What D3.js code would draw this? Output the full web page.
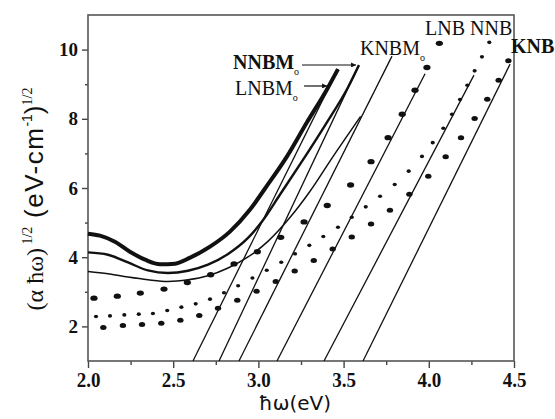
<!DOCTYPE html>
<html>
<head>
<meta charset="utf-8">
<script src="https://cdn.jsdelivr.net/npm/d3@7"></script>
<style>
  body { margin: 0; background: #fff; }
  .tick text { font-family: "Liberation Serif", "Times New Roman", serif; font-weight: bold; font-size: 19px; fill: #111; }
  .tick line { stroke: #444; stroke-width: 1.4; }
</style>
</head>
<body>
<svg id="chart" width="555" height="419"></svg>
<script>
// photon energy hw (eV) and (alpha*hw)^1/2

// solid absorption curves
var lnbmoX = [2.000, 2.070, 2.158, 2.246, 2.335, 2.423, 2.511, 2.599, 2.716, 2.833, 2.951, 3.039, 3.168, 3.285, 3.403, 3.467];
var lnbmoY = [4.681, 4.623, 4.449, 4.159, 3.928, 3.797, 3.812, 3.986, 4.304, 4.739, 5.377, 5.986, 6.913, 7.899, 8.855, 9.435];

var nnbmoX = [2.000, 2.117, 2.235, 2.352, 2.469, 2.587, 2.704, 2.822, 2.939, 3.021, 3.127, 3.244, 3.391, 3.526, 3.590];
var nnbmoY = [4.139, 4.072, 3.849, 3.617, 3.542, 3.609, 3.783, 4.093, 4.557, 5.029, 5.812, 6.681, 7.812, 8.913, 9.551];

var knbmoX = [2.000, 2.117, 2.235, 2.352, 2.469, 2.587, 2.704, 2.822, 2.939, 3.056, 3.185, 3.302, 3.430, 3.600];
var knbmoY = [3.588, 3.522, 3.426, 3.348, 3.299, 3.348, 3.464, 3.687, 4.006, 4.458, 5.145, 5.899, 6.850, 8.070];

// dotted series
var lnbX = [2.035, 2.172, 2.307, 2.446, 2.583, 2.720, 2.857, 2.994, 3.131, 3.268, 3.404, 3.541, 3.661, 3.761, 3.844, 3.919, 3.989, 4.062];
var lnbY = [2.817, 2.875, 2.962, 3.078, 3.270, 3.493, 3.806, 4.159, 4.574, 5.020, 5.493, 6.087, 6.762, 7.455, 8.130, 8.826, 9.484, 10.180];

var nnbX = [2.047, 2.129, 2.213, 2.298, 2.381, 2.465, 2.548, 2.632, 2.716, 2.798, 2.881, 2.965, 3.049, 3.134, 3.215, 3.299,
            3.381, 3.467, 3.548, 3.630, 3.714, 3.800, 3.882, 3.960, 4.023, 4.085, 4.136, 4.183, 4.226, 4.269, 4.312, 4.355];
var nnbY = [2.284, 2.304, 2.333, 2.354, 2.371, 2.458, 2.557, 2.652, 2.788, 2.971, 3.174, 3.397, 3.623, 3.855, 4.101, 4.342,
            4.600, 4.864, 5.154, 5.455, 5.762, 6.101, 6.487, 6.913, 7.310, 7.725, 8.130, 8.557, 8.971, 9.386, 9.791, 10.209];

var knbX = [2.090, 2.205, 2.317, 2.430, 2.542, 2.653, 2.763, 2.876, 2.989, 3.102, 3.213, 3.325, 3.436, 3.548, 3.661, 3.772,
            3.886, 3.997, 4.099, 4.189, 4.269, 4.343, 4.410, 4.467];
var knbY = [1.965, 2.023, 2.052, 2.093, 2.180, 2.313, 2.528, 2.754, 3.014, 3.299, 3.600, 3.907, 4.238, 4.586, 4.962, 5.357,
            5.820, 6.342, 6.904, 7.455, 8.006, 8.565, 9.116, 9.675];

// linear extrapolation lines: [x at bottom, x at top], [y at bottom, y at top]
var fitLnbmo = [[2.616, 3.467], [1.0, 9.435]];
var fitNnbmo = [[2.769, 3.590], [1.0, 9.551]];
var fitKnbmo = [[2.886, 3.784], [1.0, 9.812]];
var fitLnb   = [[3.109, 3.978], [1.0, 9.300]];
var fitNnb   = [[3.385, 4.265], [1.0, 9.261]];
var fitKnb   = [[3.614, 4.477], [1.0, 9.580]];

var xMajor = [2.0, 2.5, 3.0, 3.5, 4.0, 4.5];
var xMinor = [2.25, 2.75, 3.25, 3.75, 4.25];
var yMajor = [2, 4, 6, 8, 10];
var yMinor = [3, 5, 7, 9];

var svg = d3.select("#chart");
var margin = {top: 15, right: 41, bottom: 58, left: 88};
var width = 555 - margin.left - margin.right,
    height = 419 - margin.top - margin.bottom;

var x = d3.scaleLinear().domain([2.0, 4.5]).range([margin.left, margin.left + width]);
var y = d3.scaleLinear().domain([1, 11]).range([margin.top + height, margin.top]);

function zip(xs, ys) { return xs.map(function(v, i) { return [v, ys[i]]; }); }

// axes
var gx = svg.append("g").attr("transform", "translate(0," + (margin.top + height) + ")");
gx.call(d3.axisBottom(x).tickValues(xMajor).tickSize(7).tickPadding(3).tickFormat(d3.format(".1f")));
gx.append("g").call(d3.axisBottom(x).tickValues(xMinor).tickSize(4).tickFormat(""));
var gy = svg.append("g").attr("transform", "translate(" + margin.left + ",0)");
gy.call(d3.axisLeft(y).tickValues(yMajor).tickSize(6).tickPadding(4));
gy.append("g").call(d3.axisLeft(y).tickValues(yMinor).tickSize(3).tickFormat(""));
svg.selectAll(".domain").remove();
gx.selectAll(".tick text").attr("transform", "scale(1,1.12)");

svg.append("rect")
    .attr("x", margin.left).attr("y", margin.top)
    .attr("width", width).attr("height", height)
    .attr("fill", "none").attr("stroke", "#555").attr("stroke-width", 1.6);

var plot = svg.append("g");

// fit lines
var line = d3.line().x(function(d) { return x(d[0]); }).y(function(d) { return y(d[1]); });
[fitLnbmo, fitNnbmo, fitKnbmo, fitLnb, fitNnb, fitKnb].forEach(function(f) {
  plot.append("path")
      .datum(zip(f[0], f[1]))
      .attr("d", line)
      .attr("fill", "none").attr("stroke", "#111").attr("stroke-width", 1.3);
});

// absorption curves
var smooth = d3.line().curve(d3.curveMonotoneX)
    .x(function(d) { return x(d[0]); }).y(function(d) { return y(d[1]); });
plot.append("path").datum(zip(knbmoX, knbmoY)).attr("d", smooth)
    .attr("fill", "none").attr("stroke", "#111").attr("stroke-width", 1.5);
plot.append("path").datum(zip(nnbmoX, nnbmoY)).attr("d", smooth)
    .attr("fill", "none").attr("stroke", "#111").attr("stroke-width", 2.4);
plot.append("path").datum(zip(lnbmoX, lnbmoY)).attr("d", smooth)
    .attr("fill", "none").attr("stroke", "#111").attr("stroke-width", 4);

// dot series
function dots(xs, ys, rx, ry) {
  plot.append("g").selectAll("ellipse")
      .data(zip(xs, ys))
      .enter().append("ellipse")
      .attr("cx", function(d) { return x(d[0]); })
      .attr("cy", function(d) { return y(d[1]); })
      .attr("rx", rx).attr("ry", ry)
      .attr("fill", "#111");
}
dots(lnbX, lnbY, 3.6, 2.7);
dots(knbX, knbY, 3.2, 2.5);
dots(nnbX, nnbY, 2.1, 1.8);

// labels
svg.append("defs").append("marker")
    .attr("id", "arrow").attr("viewBox", "0 0 10 10")
    .attr("refX", 10).attr("refY", 5)
    .attr("markerWidth", 7).attr("markerHeight", 5)
    .attr("markerUnits", "userSpaceOnUse")
    .attr("orient", "auto")
  .append("path").attr("d", "M0,0L10,5L0,10z").attr("fill", "#111");

function label(txt, sub, px, py, bold) {
  var t = svg.append("text")
      .attr("x", x(px)).attr("y", y(py))
      .attr("font-family", "'Liberation Serif', 'Times New Roman', serif")
      .attr("font-size", 20)
      .attr("font-weight", bold ? "bold" : "normal")
      .attr("fill", "#111")
      .text(txt);
  if (sub) t.append("tspan").attr("dy", 6).attr("font-size", 10).attr("font-weight", "normal").text(sub);
}
label("NNBM", "o", 2.851, 9.44, true);
label("LNBM", "o", 2.863, 8.69, false);
label("KNBM", "o", 3.596, 9.84, false);
label("LNB", null, 3.978, 10.42, false);
label("NNB", null, 4.242, 10.42, false);
label("KNB", null, 4.482, 9.90, true);

function arrow(x0, x1, yy) {
  svg.append("line")
      .attr("x1", x(x0)).attr("x2", x(x1)).attr("y1", y(yy)).attr("y2", y(yy))
      .attr("stroke", "#111").attr("stroke-width", 1.2)
      .attr("marker-end", "url(#arrow)");
}
arrow(3.256, 3.573, 9.555);
arrow(3.268, 3.403, 8.948);

// axis titles
svg.append("text")
    .attr("x", x(3.214)).attr("y", 410)
    .attr("text-anchor", "middle")
    .attr("font-family", "'DejaVu Sans', sans-serif")
    .attr("font-size", 20)
    .attr("fill", "#111")
    .text("\u0127\u03c9(eV)");

var yt = svg.append("text")
    .attr("transform", "translate(43," + 199 + ") rotate(-90)")
    .attr("text-anchor", "middle")
    .attr("fill", "#111");
yt.append("tspan").attr("font-family", "'Liberation Serif', serif").attr("font-size", 24).text("(\u03b1 \u0127\u03c9)");
yt.append("tspan").attr("font-family", "'Liberation Serif', serif").attr("font-size", 14).attr("dy", -11).text(" 1/2");
yt.append("tspan").attr("font-family", "'Liberation Sans', Arial, sans-serif").attr("font-size", 26).attr("dy", 11)
    .attr("letter-spacing", 1.5).text(" (eV-cm");
yt.append("tspan").attr("font-family", "'Liberation Sans', Arial, sans-serif").attr("font-size", 14).attr("dy", -11).text("-1");
yt.append("tspan").attr("font-family", "'Liberation Sans', Arial, sans-serif").attr("font-size", 26).attr("dy", 11).text(")");
yt.append("tspan").attr("font-family", "'Liberation Serif', serif").attr("font-size", 14).attr("dy", -11).text("1/2");
</script>
</body>
</html>
